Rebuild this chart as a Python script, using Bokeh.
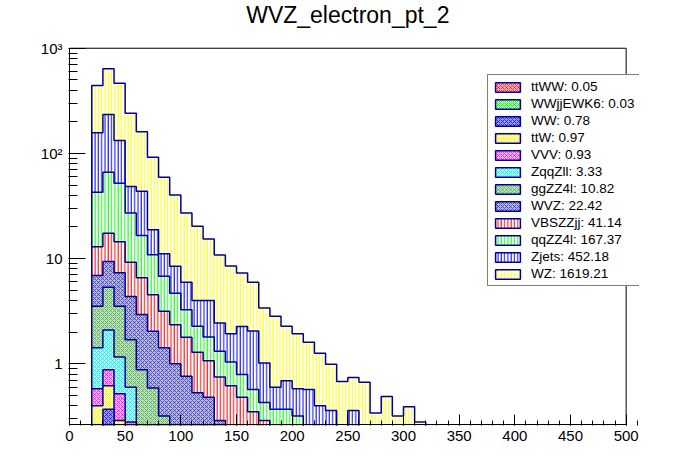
import numpy as np
from bokeh.plotting import figure
from bokeh.models import (Range1d, FixedTicker, SingleIntervalTicker, Legend,
                          LegendItem, BoxAnnotation, Label)
from bokeh.embed import file_html
from bokeh.resources import INLINE

# ---- data -------------------------------------------------------------
bin_edges = list(range(20, 330, 10))   # 30 bins of 10 GeV, 20..320

process_names = ["ttWW", "WWjjEWK6", "WW", "ttW", "VVV", "ZqqZll",
                 "ggZZ4l", "WVZ", "VBSZZjj", "qqZZ4l", "Zjets", "WZ"]
process_totals = [0.05, 0.03, 0.78, 0.97, 0.93, 3.33,
                  10.82, 22.42, 41.14, 167.37, 452.18, 1619.21]

ttWW = [0, 0.01, 0.01, 0.01, 0.01, 0.01, 0, 0, 0, 0,
        0, 0, 0, 0, 0, 0, 0, 0, 0, 0, 0, 0, 0, 0, 0, 0, 0, 0, 0, 0]
WWjjEWK6 = [0.01, 0.01, 0.01, 0, 0, 0, 0, 0, 0, 0,
            0, 0, 0, 0, 0, 0, 0, 0, 0, 0, 0, 0, 0, 0, 0, 0, 0, 0, 0, 0]
WW = [0.15, 0.35, 0.12, 0.08, 0.05, 0.03, 0, 0, 0, 0,
      0, 0, 0, 0, 0, 0, 0, 0, 0, 0, 0, 0, 0, 0, 0, 0, 0, 0, 0, 0]
ttW = [0.24, 0.25, 0.15, 0.08, 0.05, 0.04, 0.04, 0.03, 0.02, 0.02,
       0, 0, 0, 0, 0, 0, 0, 0, 0, 0, 0, 0, 0, 0, 0, 0, 0, 0, 0, 0]
VVV = [0.18, 0.26, 0.23, 0.11, 0.06, 0.04, 0.03, 0.02, 0, 0,
       0, 0, 0, 0, 0, 0, 0, 0, 0, 0, 0, 0, 0, 0, 0, 0, 0, 0, 0, 0]
ZqqZll = [0.84, 1.22, 0.64, 0.32, 0.07, 0.05, 0.04, 0.03, 0.03, 0.02,
          0, 0, 0, 0, 0, 0, 0, 0, 0, 0, 0, 0, 0, 0, 0, 0, 0, 0, 0, 0]
ggZZ4l = [2.11, 3.25, 2.37, 1.09, 0.64, 0.42, 0.21, 0.10, 0.08, 0.06,
          0.05, 0.04, 0, 0, 0, 0, 0, 0, 0, 0, 0, 0, 0, 0, 0, 0, 0, 0, 0, 0]
WVZ = [3.37, 4.05, 3.80, 2.67, 2.06, 1.45, 1.10, 0.82, 0.63, 0.43,
       0.43, 0.25, 0.15, 0.10, 0.08, 0, 0, 0, 0, 0, 0, 0, 0, 0, 0, 0, 0, 0, 0, 0]
VBSZZjj = [6.10, 8.00, 7.17, 4.89, 3.63, 2.49, 1.74, 1.35, 1.03, 0.76,
           0.59, 0.46, 0.47, 0.38, 0.27, 0.29, 0.15, 0.10, 0, 0,
           0, 0, 0, 0, 0, 0, 0, 0, 0, 0]
qqZZ4l = [29.8, 48.8, 37.6, 17.95, 10.03, 6.37, 3.64, 2.34, 1.47, 0.99,
          0.73, 0.57, 0.42, 0.31, 0.22, 0.14, 0.22, 0.27, 0.32, 0.20,
          0.12, 0.10, 0, 0, 0, 0, 0, 0, 0, 0]
Zjets = [114.2, 167.8, 80.9, 21.3, 27.1, 7.9, 4.3, 3.78, 2.71, 1.72,
         2.2, 1.13, 0.89, 1.47, 1.48, 0.59, 0.23, 0.32, 0.26, 0.37,
         0.28, 0.26, 0.10, 0.36, 0.10, 0, 0, 0, 0, 0]
WZ = [285, 403, 332, 192.5, 117.3, 73.2, 48.3, 31.9, 21.2, 16.3,
      11.4, 8.4, 6.57, 5.04, 3.92, 2.38, 2.23, 1.59, 1.35, 1.03,
      0.86, 0.63, 0.58, 0.38, 0.57, 0.34, 0.49, 0.32, 0.39, 0.28]

process_values = [ttWW, WWjjEWK6, WW, ttW, VVV, ZqqZll,
                  ggZZ4l, WVZ, VBSZZjj, qqZZ4l, Zjets, WZ]

x_min, x_max = 0, 500
y_min, y_max = 0.265, 1000
title_text = "WVZ_electron_pt_2"

# ---- styles -----------------------------------------------------------
styles = [
    ("diagonal_cross", "#ff0000", "#ffb0b0"),
    ("diagonal_cross", "#00dd00", "#b0ffb0"),
    ("diagonal_cross", "#0000dd", "#9a9aff"),
    ("diagonal_cross", "#eeee00", "#ffffb0"),
    ("diagonal_cross", "#ee00ee", "#ffb0ff"),
    ("diagonal_cross", "#00e0e0", "#b0ffff"),
    ("diagonal_cross", "#3fa33f", "#bce0bc"),
    ("diagonal_cross", "#2626a6", "#b6b6e2"),
    ("vertical_line", "#ff0000", "white"),
    ("vertical_line", "#00ff00", "white"),
    ("vertical_line", "#0000ff", "white"),
    ("vertical_line", "#ffff00", "white"),
]
OUTLINE = "#000099"
FONT = "Liberation Sans"

edges = np.array(bin_edges, dtype=float)
stack = np.cumsum(np.array(process_values, dtype=float), axis=0)
floor = 0.1

# The plotting frame is larger than the drawn axis box (which is drawn
# from the axis ranges) so the legend and the title are not clipped.
p = figure(width=680, height=456,
           x_range=Range1d(-0.9, 512), y_range=Range1d(0.2593, 2843),
           y_axis_type="log", output_backend="svg", toolbar_location=None,
           min_border_left=68, min_border_right=41,
           min_border_top=0, min_border_bottom=31)
p.title.visible = False

renderers = [None] * len(process_names)
for i in reversed(range(len(process_names))):
    c = np.maximum(stack[i], floor)
    xs = np.concatenate([[edges[0]], np.repeat(edges, 2)[1:-1], [edges[-1]]])
    ys = np.concatenate([[floor], np.repeat(c, 2), [floor]])
    pat, hc, fc = styles[i]
    if pat == "vertical_line":
        hs, hw = 3.3, 1.0
    else:
        hs, hw = 4.0, 0.7
    renderers[i] = p.patch(xs, ys, fill_color=fc, hatch_pattern=pat,
                           hatch_color=hc, hatch_scale=hs, hatch_weight=hw,
                           line_color=OUTLINE, line_width=1.5)

# frame box of the axis ranges
p.add_layout(BoxAnnotation(left=x_min, right=x_max, bottom=y_min, top=y_max,
                           fill_alpha=0, line_color="black", line_alpha=1,
                           line_dash="solid", line_width=1))

items = [LegendItem(label=f"{n}: {t:.2f}", renderers=[renderers[i]])
         for i, (n, t) in enumerate(zip(process_names, process_totals))]
legend = Legend(items=items, location=(419, 139), margin=0, padding=4,
                spacing=2, glyph_width=31, glyph_height=12, label_standoff=8,
                label_height=12, label_text_font=FONT,
                label_text_font_size="13.5px", label_text_color="black",
                border_line_color="black", border_line_width=1,
                background_fill_color="white", background_fill_alpha=1)
p.add_layout(legend)

# title, centred over the axis box, near the top of the canvas
p.add_layout(Label(x=(x_min + x_max) / 2, y=y_max * 10 ** (46.0 / 105.2),
                   text=title_text, text_align="center",
                   text_baseline="top", text_font=FONT,
                   text_font_size="23px", text_color="black"))

# ---- axes -------------------------------------------------------------
p.yaxis.ticker = FixedTicker(
    ticks=[1, 10, 100, 1000],
    minor_ticks=[m * 10.0 ** e for e in range(-1, 3) for m in range(2, 10)])
p.yaxis.major_label_overrides = {1: "1", 10: "10", 100: "10²", 1000: "10³"}
p.xaxis.ticker = SingleIntervalTicker(interval=50, num_minor_ticks=5)

for ax in (p.xaxis, p.yaxis):
    ax.axis_line_color = None
    ax.major_tick_line_color = "black"
    ax.minor_tick_line_color = "black"
    ax.major_tick_out = 0
    ax.minor_tick_out = 0
    ax.major_label_text_font = FONT
    ax.major_label_text_font_size = "15px"
    ax.major_label_text_color = "black"
p.yaxis.major_tick_in = 17
p.yaxis.minor_tick_in = 9
p.xaxis.major_tick_in = 11
p.xaxis.minor_tick_in = 5
p.xaxis.major_label_standoff = 5
p.yaxis.major_label_standoff = 6

p.xgrid.visible = False
p.ygrid.visible = False
p.outline_line_color = None
p.background_fill_color = "white"
p.border_fill_color = "white"

open("out.html", "w").write(file_html(p, INLINE))
